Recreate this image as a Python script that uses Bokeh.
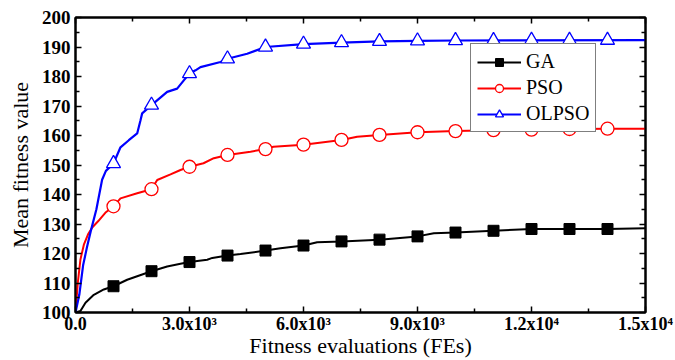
from bokeh.plotting import figure
from bokeh.models import LinearAxis, FixedTicker, Legend
from bokeh.embed import file_html
from bokeh.resources import INLINE

# ---- data ----
ga_fe = [0, 130, 263, 482, 745, 1000, 1360, 1623, 2000, 2412, 2763, 3000, 3465, 3600, 4000, 4342,
         5000, 5395, 6000, 6360, 7000, 8000, 9000, 9430, 10000, 11000, 12000, 13000, 14000, 15000]
ga_val = [100, 100.5, 103.3, 106, 107.8, 108.9, 111.1, 112.3, 114, 115.6, 116.5, 117.1, 117.9, 118.5,
          119.3, 119.8, 121, 121.8, 122.7, 123.8, 124.1, 124.7, 125.8, 126.9, 127.1, 127.7, 128.3,
          128.3, 128.3, 128.6]

pso_fe = [0, 60, 130, 220, 330, 440, 600, 800, 1000, 1184, 1623, 2000, 2150, 2500, 2763, 3000, 3368,
          3640, 4000, 4605, 5000, 5210, 6000, 7000, 7412, 8000, 9000, 10000, 11000, 12000, 13000,
          14000, 15000]
pso_val = [100, 110, 118, 123, 126.5, 128.8, 131, 134, 136, 138.7, 140.4, 141.8, 144.9, 146.8, 148.3,
           149.4, 150.6, 152.3, 153.4, 154.5, 155.4, 156.2, 156.9, 158.5, 159.6, 160.2, 161.1, 161.5,
           161.8, 162, 162.2, 162.3, 162.3]

ol_fe = [0, 100, 200, 300, 400, 550, 700, 800, 1000, 1184, 1403, 1623, 1711, 1754, 2000, 2412, 2675,
         2850, 3000, 3158, 3289, 3816, 4000, 4518, 5000, 6000, 7000, 8000, 9000, 10000, 15000]
ol_val = [100, 106, 116, 122, 127.5, 135, 145, 148, 150.5, 156, 158.4, 160.7, 165.2, 167.5, 170.3,
          174.8, 175.9, 178.7, 181, 182.1, 183.2, 184.9, 186, 187.7, 190, 191, 191.5, 191.9, 192.1,
          192.2, 192.3]

mark_fe = [1000, 2000, 3000, 4000, 5000, 6000, 7000, 8000, 9000, 10000, 11000, 12000, 13000, 14000]
ga_mark = [108.9, 114, 117.1, 119.3, 121, 122.7, 124.1, 124.7, 125.8, 127.1, 127.7, 128.3, 128.3, 128.3]
pso_mark = [136, 141.8, 149.4, 153.4, 155.4, 156.9, 158.5, 160.2, 161.1, 161.5, 161.8, 162, 162.2, 162.3]
ol_mark = [150.5, 170.3, 181, 186, 190, 191, 191.5, 191.9, 192.1, 192.2, 192.2, 192.3, 192.3, 192.3]

x_tick_values = [0, 3000, 6000, 9000, 12000, 15000]
x_tick_labels = ["0.0", "3.0x10\u00b3", "6.0x10\u00b3", "9.0x10\u00b3", "1.2x10\u2074", "1.5x10\u2074"]
x_minor_values = [1500, 4500, 7500, 10500, 13500]
y_tick_values = [100, 110, 120, 130, 140, 150, 160, 170, 180, 190, 200]
y_minor_values = [105, 115, 125, 135, 145, 155, 165, 175, 185, 195]

FONT = "Liberation Serif"

p = figure(width=675, height=360, output_backend="svg", toolbar_location=None,
           x_range=(0, 15000), y_range=(100, 200),
           min_border_left=75, min_border_right=30, min_border_top=17, min_border_bottom=47)
p.xgrid.visible = False
p.ygrid.visible = False
p.outline_line_color = "black"
p.outline_line_width = 2
p.background_fill_color = "white"
p.border_fill_color = "white"

xt = FixedTicker(ticks=x_tick_values, minor_ticks=x_minor_values)
yt = FixedTicker(ticks=y_tick_values, minor_ticks=y_minor_values)

def style_axis(ax, show_labels):
    ax.axis_line_width = 2
    ax.axis_line_color = "black"
    ax.major_tick_in = 6
    ax.major_tick_out = 0
    ax.minor_tick_in = 4
    ax.minor_tick_out = 0
    ax.major_tick_line_width = 1.5
    ax.minor_tick_line_width = 1.5
    ax.major_label_text_font = FONT
    ax.major_label_text_font_style = "bold"
    ax.major_label_text_color = "black"
    if not show_labels:
        ax.major_label_text_color = None
        ax.major_label_text_font_size = "1px"
        ax.major_label_standoff = 0

xa = p.xaxis[0]
xa.ticker = xt
style_axis(xa, True)
xa.major_label_text_font_size = "18px"
xa.major_label_standoff = 1
xa.major_label_overrides = dict(zip(x_tick_values, x_tick_labels))
xa.axis_label = "Fitness evaluations (FEs)"
xa.axis_label_text_font = FONT
xa.axis_label_text_font_style = "normal"
xa.axis_label_text_color = "black"
xa.axis_label_text_font_size = "22px"
xa.axis_label_standoff = -4

ya = p.yaxis[0]
ya.ticker = yt
style_axis(ya, True)
ya.major_label_text_font_size = "19px"
ya.major_label_standoff = 5
ya.axis_label = "Mean fitness value"
ya.axis_label_text_font = FONT
ya.axis_label_text_font_style = "normal"
ya.axis_label_text_color = "black"
ya.axis_label_text_font_size = "22px"
ya.axis_label_standoff = 6

top = LinearAxis(ticker=xt)
style_axis(top, False)
p.add_layout(top, "above")
right = LinearAxis(ticker=yt)
style_axis(right, False)
p.add_layout(right, "right")

# lines
l_ga = p.line(ga_fe, ga_val, line_color="black", line_width=2)
l_pso = p.line(pso_fe, pso_val, line_color="red", line_width=2)
l_ol = p.line(ol_fe, ol_val, line_color="blue", line_width=2.2)
# markers
m_ga = p.scatter(mark_fe, ga_mark, marker="square", size=11, fill_color="black", line_color="black")
m_pso = p.scatter(mark_fe, pso_mark, marker="circle", size=13, fill_color="white", line_color="red",
                  line_width=1.3)
m_ol = p.scatter(mark_fe, ol_mark, marker="triangle", size=14, fill_color="white", line_color="blue",
                 line_width=1.3)

legend = Legend(items=[("GA", [l_ga, m_ga]), ("PSO", [l_pso, m_pso]), ("OLPSO", [l_ol, m_ol])],
                location=(395, 180))
legend.label_text_font = FONT
legend.label_text_font_size = "20px"
legend.label_text_color = "black"
legend.glyph_width = 44
legend.glyph_height = 20
legend.label_height = 20
legend.label_standoff = 5
legend.spacing = 3
legend.padding = 6
legend.margin = 0
legend.border_line_color = "black"
legend.border_line_width = 1.2
legend.background_fill_alpha = 1
p.add_layout(legend, "center")

open("out.html", "w").write(file_html(p, INLINE))
